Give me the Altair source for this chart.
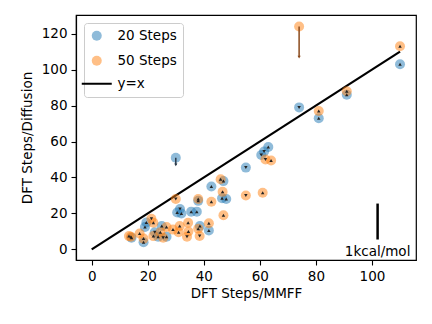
import altair as alt
import pandas as pd

# 20 Steps (blue)
b_x = [110, 91, 81, 74, 63, 61.5, 60.5, 55, 47, 42.7, 46.5, 48, 38, 31.5, 35.5, 37.5, 30.5, 30,
       25, 19.5, 19, 22.5, 23.7, 26.7, 18.5, 14.2, 38.6, 41.8, 32]
b_y = [103, 86, 73, 79, 57, 54.5, 52.5, 45.5, 38, 35, 28.5, 28, 27, 22.5, 21, 21, 20.5, 51,
       13, 15, 12.5, 9.5, 7, 7, 4, 6.5, 13, 10.5, 20]
b_dir = ["up", "up", "up", "down", "up", "down", "down", "down", "up", "up", "up", "up", "up", "down",
         "up", "up", "up", "down", "up", "up", "up", "down", "up", "up", "up", "up", "up", "up", "up"]

# 50 Steps (orange)
o_x = [110, 91, 81, 74, 62, 64, 61, 55, 46, 46.7, 38, 30, 42.7, 47, 41.8, 38, 38.5, 34.4, 34.5,
       34, 31.4, 31, 29, 26.7, 24.5, 21.3, 22, 22, 25.5, 17.1, 18.5, 14, 13.3]
o_y = [113, 88, 77, 124, 50, 49.5, 31.5, 30, 39, 32, 28, 28, 26.5, 19, 14.5, 11.5, 7.5, 14.8, 10,
       7, 13, 9.5, 11, 12.5, 9.5, 17, 14.8, 7.4, 6.5, 8.8, 6, 7, 7.4]
o_dir = ["up", "up", "up", "down", "down", "up", "up", "down", "up", "up", "up", "down", "up", "up",
         "up", "up", "down", "up", "up", "down", "up", "up", "up", "up", "up", "down", "up", "up",
         "down", "up", "up", "up", "up"]

# long arrows (x, start y, end y)
arrow_series = ["20 Steps", "50 Steps"]
arrow_x = [30, 74]
arrow_y0 = [51, 124]
arrow_y1 = [47, 107]

line_x = [0, 110]
line_y = [0, 110]

bar_x = [102]
bar_y0 = [5.5]
bar_y1 = [25.5]
bar_label = ["1kcal/mol"]
label_y = [-3.5]

series = ["20 Steps", "50 Steps", "y=x"]
colors = ["rgba(31,119,180,0.5)", "rgba(255,127,14,0.5)", "transparent"]
strokes = ["transparent", "transparent", "black"]
shapes = ["circle", "circle", "M-3,0H3"]

pts = pd.concat([
    pd.DataFrame({"x": b_x, "y": b_y, "dir": b_dir, "series": "20 Steps"}),
    pd.DataFrame({"x": o_x, "y": o_y, "dir": o_dir, "series": "50 Steps"}),
], ignore_index=True)
long_mask = pd.Series(False, index=pts.index)
for s, ax, ay in zip(arrow_series, arrow_x, arrow_y0):
    long_mask |= (pts.series == s) & (pts.x == ax) & (pts.y == ay)
small = pts[~long_mask]

arrows = pd.DataFrame({"x": arrow_x, "y0": arrow_y0, "y1": arrow_y1, "series": arrow_series})
line_df = pd.DataFrame({"x": line_x, "y": line_y})
bar_df = pd.DataFrame({"x": bar_x, "y0": bar_y0, "y1": bar_y1, "label": bar_label, "ly": label_y})

FONT = "DejaVu Sans"
xs = alt.Scale(domain=[-5.6, 115.7], nice=False, zero=False)
ys = alt.Scale(domain=[-5.9, 130.4], nice=False, zero=False)
xaxis = alt.Axis(values=[0, 20, 40, 60, 80, 100], title="DFT Steps/MMFF", grid=False)
yaxis = alt.Axis(values=[0, 20, 40, 60, 80, 100, 120], title="DFT Steps/Diffusion", grid=False)

leg = alt.Legend(title=None, orient="top-left", offset=8)

points = alt.Chart(pts).mark_point(filled=True, size=100, opacity=1).encode(
    x=alt.X("x:Q", scale=xs, axis=xaxis),
    y=alt.Y("y:Q", scale=ys, axis=yaxis),
    color=alt.Color("series:N", scale=alt.Scale(domain=series, range=colors), legend=leg),
    stroke=alt.Stroke("series:N", scale=alt.Scale(domain=series, range=strokes), legend=leg),
    shape=alt.Shape("series:N", scale=alt.Scale(domain=series, range=shapes), legend=leg),
)

ups = alt.Chart(small).transform_filter(alt.datum.dir == "up").mark_point(
    shape="triangle-up", filled=True, size=12, color="#222222", opacity=1
).encode(x="x:Q", y="y:Q")
downs = alt.Chart(small).transform_filter(alt.datum.dir == "down").mark_point(
    shape="triangle-down", filled=True, size=12, color="#222222", opacity=1
).encode(x="x:Q", y="y:Q")

arrow_b = alt.Chart(arrows).transform_filter(alt.datum.series == "20 Steps").mark_rule(
    color="#2b3a4a", strokeWidth=1.5).encode(x="x:Q", y="y0:Q", y2="y1:Q")
arrow_o = alt.Chart(arrows).transform_filter(alt.datum.series == "50 Steps").mark_rule(
    color="#8b4a1c", strokeWidth=1.5).encode(x="x:Q", y="y0:Q", y2="y1:Q")
head_b = alt.Chart(arrows).transform_filter(alt.datum.series == "20 Steps").mark_point(
    shape="triangle-down", filled=True, size=10, color="#2b3a4a", opacity=1).encode(x="x:Q", y="y1:Q")
head_o = alt.Chart(arrows).transform_filter(alt.datum.series == "50 Steps").mark_point(
    shape="triangle-down", filled=True, size=10, color="#8b4a1c", opacity=1).encode(x="x:Q", y="y1:Q")

diag = alt.Chart(line_df).mark_line(color="black", strokeWidth=2.2).encode(x="x:Q", y="y:Q")

bar = alt.Chart(bar_df).mark_rule(color="black", strokeWidth=2.5).encode(
    x="x:Q", y="y0:Q", y2="y1:Q")
bar_text = alt.Chart(bar_df).mark_text(
    font=FONT, fontSize=13.5, align="center", baseline="alphabetic", color="black"
).encode(x="x:Q", y="ly:Q", text="label:N")

chart = alt.layer(
    diag, points, ups, downs, arrow_b, arrow_o, head_b, head_o, bar, bar_text
).properties(
    width=340, height=245,
    autosize=alt.AutoSizeParams(type="none"),
    padding={"left": 68, "top": 7, "right": 8, "bottom": 50},
).configure_view(
    stroke="black", strokeWidth=1.2
).configure_axis(
    labelFont=FONT, titleFont=FONT, labelFontSize=13.5, titleFontSize=13.5,
    titleFontWeight="normal", labelColor="black", titleColor="black",
    domainColor="black", tickColor="black", tickSize=5, labelPadding=4,
    domainWidth=1.2, tickWidth=1.1,
).configure_axisY(
    titlePadding=7
).configure_axisX(
    titlePadding=4
).configure_legend(
    labelFont=FONT, labelFontSize=13.5, labelColor="black",
    strokeColor="#cccccc", fillColor="white", padding=6, cornerRadius=3,
    symbolStrokeWidth=2, labelOffset=14, rowPadding=6,
)

chart.save("out.html", embed_options={"renderer": "svg", "actions": False})
